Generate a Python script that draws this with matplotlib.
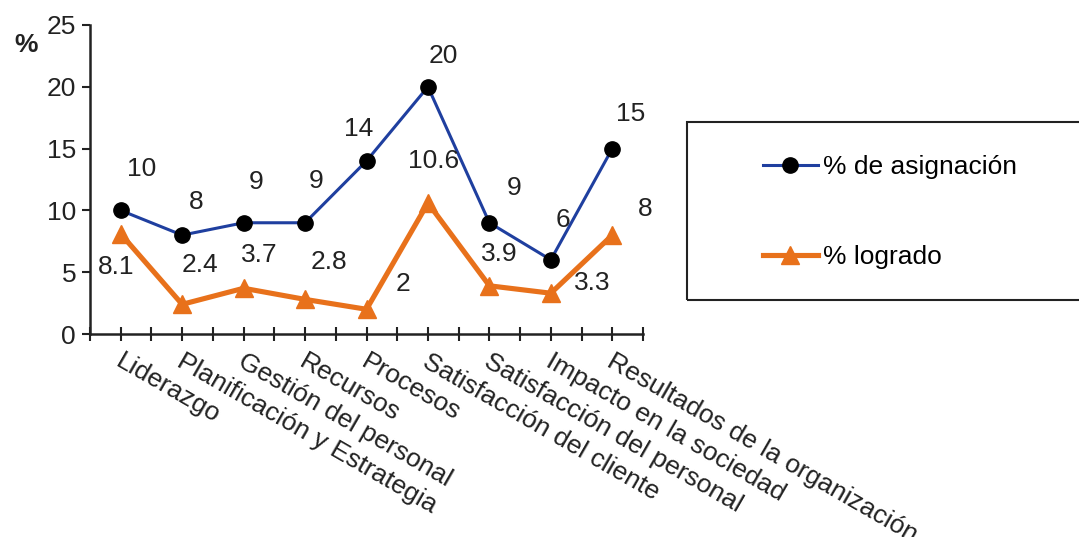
import matplotlib
matplotlib.use("Agg")
import matplotlib.pyplot as plt
from matplotlib.patches import Rectangle
import numpy as np

plt.rcParams['font.family'] = ['Liberation Sans', 'DejaVu Sans']

categories = ["Liderazgo", "Planificación y Estrategia", "Gestión del personal",
              "Recursos", "Procesos", "Satisfacción del cliente",
              "Satisfacción del personal", "Impacto en la sociedad",
              "Resultados de la organización"]
asignacion = [10, 8, 9, 9, 14, 20, 9, 6, 15]
logrado = [8.1, 2.4, 3.7, 2.8, 2, 10.6, 3.9, 3.3, 8]
asig_labels = ["10", "8", "9", "9", "14", "20", "9", "6", "15"]
logr_labels = ["8.1", "2.4", "3.7", "2.8", "2", "10.6", "3.9", "3.3", "8"]

# label offsets in points (style only)
asig_off = [(15, 30), (10, 24), (9, 29), (8, 30), (-6, 23), (11, 22), (18, 25), (9, 29), (13, 25)]
logr_off = [(-3, -24), (13, 28), (11, 24), (17, 27), (26, 18), (4, 30), (7, 23), (30, 7), (24, 19)]

blue = "#1f3f9f"
orange = "#e8711b"
fs = 19

fig = plt.figure(figsize=(10.79, 5.37), dpi=100)
ax = fig.add_axes([90/1079, 1-334/537, (643-90)/1079, (334-25)/537])

x = np.arange(len(categories))
l1, = ax.plot(x, asignacion, color=blue, lw=2.2, marker='o', ms=11,
              mfc='black', mec='black', label="% de asignación", zorder=3)
l2, = ax.plot(x, logrado, color=orange, lw=3.7, marker='^', ms=13,
              mfc=orange, mec=orange, label="% logrado", zorder=3)

for xi, v, t, (dx, dy) in zip(x, asignacion, asig_labels, asig_off):
    ax.annotate(t, (xi, v), xytext=(dx, dy), textcoords='offset points',
                ha='center', va='center', fontsize=fs, color='#222222')
for xi, v, t, (dx, dy) in zip(x, logrado, logr_labels, logr_off):
    ax.annotate(t, (xi, v), xytext=(dx, dy), textcoords='offset points',
                ha='center', va='center', fontsize=fs, color='#222222')

ax.set_xlim(-0.5, len(categories) - 0.5)
ax.set_ylim(0, 25)
ax.set_yticks([0, 5, 10, 15, 20, 25])
ax.tick_params(axis='y', labelsize=fs, direction='out', length=6, width=1.5,
               colors='#222222', pad=4)
ax.set_xticks(np.arange(-0.5, len(categories), 0.5))
ax.set_xticklabels([])
ax.tick_params(axis='x', direction='inout', length=10, width=1.5, colors='#222222')

for sp in ['top', 'right']:
    ax.spines[sp].set_visible(False)
for sp in ['left', 'bottom']:
    ax.spines[sp].set_linewidth(1.8)
    ax.spines[sp].set_color('#222222')

for xi, c in zip(x, categories):
    ax.annotate(c, (xi, 0), xytext=(2, -11), textcoords='offset points',
                rotation=-30, rotation_mode='anchor', ha='left', va='top',
                fontsize=fs, color='#222222', annotation_clip=False)

fig.text(14/1079, 1-45/537, "%", fontsize=fs, fontweight='bold',
         ha='left', va='center', color='#222222')

rect = Rectangle((687/1079, 1-300/537), 1.0, (300-122)/537, transform=fig.transFigure,
                 fill=False, edgecolor='#222222', lw=1.5)
fig.patches.append(rect)

leg = fig.legend(handles=[l1, l2], loc='upper left',
                 bbox_to_anchor=(763/1079, 1-155/537), fontsize=fs,
                 frameon=False, borderpad=0, labelspacing=2.5,
                 handlelength=2.08, handletextpad=0.2, borderaxespad=0)

fig.savefig("out.png", dpi=100)
